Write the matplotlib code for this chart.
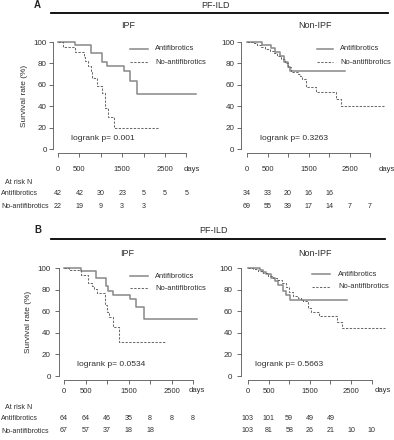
import matplotlib.pyplot as plt
from matplotlib.lines import Line2D
from matplotlib.transforms import blended_transform_factory

plt.rcParams['font.family'] = ['Liberation Sans', 'DejaVu Sans']

# Kaplan-Meier step data (days, survival %)
a_ipf_anti_t = [0, 397, 765, 1021, 1154, 1544, 1685, 1857, 3230]
a_ipf_anti_s = [100, 97.6, 90.1, 81.6, 77.4, 72.5, 63.8, 51.0, 51.0]
a_ipf_no_t = [0, 124, 397, 600, 640, 700, 760, 790, 904, 1021, 1100, 1178, 1318, 2360]
a_ipf_no_s = [100, 95.5, 90.9, 86.4, 81.8, 77.3, 72.7, 65.9, 58.6, 52.0, 38.5, 29.6, 19.7, 19.7]

a_non_anti_t = [0, 366, 593, 690, 797, 902, 1000, 1041, 2390]
a_non_anti_s = [100, 97.5, 94.4, 90.7, 86.6, 81.3, 76.3, 72.5, 72.5]
a_non_no_t = [0, 146, 250, 350, 450, 560, 650, 740, 830, 920, 1000, 1081, 1244, 1300, 1350,
              1447, 1683, 2171, 2285, 3341]
a_non_no_s = [100, 98.6, 97.1, 95.7, 93.2, 91.3, 89.9, 86.9, 84.1, 80.0, 76.3, 72.0, 70.5, 68.0,
              65.0, 57.7, 53.3, 46.5, 40.2, 40.2]

b_ipf_anti_t = [0, 395, 744, 977, 1016, 1147, 1535, 1674, 1868, 3093]
b_ipf_anti_s = [100, 97.5, 90.7, 83.3, 78.4, 74.7, 71.0, 63.9, 53.1, 53.1]
b_ipf_no_t = [0, 124, 395, 550, 651, 705, 760, 961, 993, 1054, 1147, 1287, 2349]
b_ipf_no_s = [100, 97.9, 93.3, 86.4, 83.3, 80.2, 77.2, 66.0, 59.3, 54.6, 45.4, 31.5, 31.5]

b_non_anti_t = [0, 283, 364, 444, 551, 648, 728, 850, 930, 1012, 2396]
b_non_anti_s = [100, 98, 96, 94, 91, 88, 84, 79, 75, 70, 70]
b_non_no_t = [0, 121, 250, 370, 480, 600, 700, 820, 920, 1000, 1100, 1214, 1280, 1327, 1449,
              1529, 1731, 2153, 2274, 3330]
b_non_no_s = [100, 99, 97, 95, 93, 91, 89, 86, 82, 78, 74, 72, 70, 69, 62.6, 58.9, 55.8, 49.6,
              44.2, 44.2]

# numbers at risk
risk_times = [0, 500, 1000, 1500, 2000, 2500, 3000]
a_ipf_risk_anti = [42, 42, 30, 23, 5, 5, 5]
a_ipf_risk_no = [22, 19, 9, 3, 3]
a_non_risk_anti = [34, 33, 20, 16, 16]
a_non_risk_no = [69, 55, 39, 17, 14, 7, 7]
b_ipf_risk_anti = [64, 64, 46, 35, 8, 8, 8]
b_ipf_risk_no = [67, 57, 37, 18, 18]
b_non_risk_anti = [103, 101, 59, 49, 49]
b_non_risk_no = [103, 81, 58, 26, 21, 10, 10]

p_values = ['0.001', '0.3263', '0.0534', '0.5663']
titles = ['IPF', 'Non-IPF', 'IPF', 'Non-IPF']

W, H = 394, 440
fig = plt.figure(figsize=(W / 100, H / 100), dpi=100)
TXT = '#2e2e2e'
AX = '#555555'
C_ANTI = '#888888'
C_NO = '#6a6a6a'


def fx(px):
    return px / W


def fy(py):
    return 1 - py / H


def ftext(px, py, s, size=5.5, ha='center', **kw):
    fig.text(fx(px), fy(py), s, fontsize=size, ha=ha, va='center', color=kw.pop('color', TXT), **kw)


# layout per panel (pixels)
panels = [
    dict(x0=58, sx=0.0428, xlim=(-117, 3300), y0=149, sy=1.07, tx=128, ty=26,
         lx=71, ly=139, leg=(130, 148, 155, 49, 62), days=192, xpad=6.5, ypad=1.5,
         rows=(193, 206),
         anti=(a_ipf_anti_t, a_ipf_anti_s), no=(a_ipf_no_t, a_ipf_no_s),
         risk=(a_ipf_risk_anti, a_ipf_risk_no)),
    dict(x0=247, sx=0.041, xlim=(-154, 3400), y0=149, sy=1.07, tx=315, ty=26,
         lx=260, ly=139, leg=(317, 333, 340, 49, 62), days=387, xpad=6.5, ypad=1.5,
         rows=(193, 206),
         anti=(a_non_anti_t, a_non_anti_s), no=(a_non_no_t, a_non_no_s),
         risk=(a_non_risk_anti, a_non_risk_no)),
    dict(x0=64, sx=0.043, xlim=(-116, 3200), y0=376, sy=1.08, tx=127, ty=253,
         lx=77, ly=364, leg=(130, 148, 155, 276, 288), days=197, xpad=2.5, ypad=3,
         rows=(418, 430),
         anti=(b_ipf_anti_t, b_ipf_anti_s), no=(b_ipf_no_t, b_ipf_no_s),
         risk=(b_ipf_risk_anti, b_ipf_risk_no)),
    dict(x0=248, sx=0.0412, xlim=(-175, 3400), y0=376, sy=1.08, tx=315, ty=254,
         lx=255, ly=364, leg=(312, 330, 338, 274, 287), days=383, xpad=2.5, ypad=3,
         rows=(418, 430),
         anti=(b_non_anti_t, b_non_anti_s), no=(b_non_no_t, b_non_no_s),
         risk=(b_non_risk_anti, b_non_risk_no)),
]

for i, p in enumerate(panels):
    left = p['x0'] + p['sx'] * p['xlim'][0]
    right = p['x0'] + p['sx'] * p['xlim'][1]
    top = p['y0'] - p['sy'] * 104
    bottom = p['y0'] + p['sy'] * 4
    ax = fig.add_axes([fx(left), fy(bottom), fx(right - left), (bottom - top) / H])
    ax.set_xlim(*p['xlim'])
    ax.set_ylim(-4, 104)
    ax.patch.set_visible(False)

    ax.step(p['anti'][0], p['anti'][1], where='post', color=C_ANTI, lw=1.1)
    ax.step(p['no'][0], p['no'][1], where='post', color=C_NO, lw=0.75, ls=(0, (2.2, 1.4)))

    for side in ['top', 'right']:
        ax.spines[side].set_visible(False)
    ax.spines['left'].set_bounds(0, 100)
    ax.spines['bottom'].set_bounds(0, 3000)
    for side in ['left', 'bottom']:
        ax.spines[side].set_color(AX)
        ax.spines[side].set_linewidth(0.6)

    ax.set_xticks(risk_times)
    ax.set_xticklabels(['0', '500', '', '1500', '', '2500', ''])
    ax.set_yticks([0, 20, 40, 60, 80, 100])
    ax.tick_params(axis='x', length=3, width=0.6, color=AX, labelsize=5.5,
                   labelcolor=TXT, pad=p['xpad'])
    ax.tick_params(axis='y', length=3, width=0.6, color=AX, labelsize=5.8,
                   labelcolor=TXT, pad=p['ypad'])

    # panel title, p-value, "days"
    ftext(p['tx'], p['ty'], titles[i], size=6.5)
    ftext(p['lx'], p['ly'], 'logrank p= ' + p_values[i], size=6, ha='left')
    tick_y = p['y0'] + p['sy'] * 4 + 3 + p['xpad'] * 1.39 + 4
    ftext(p['days'], tick_y, 'days', size=5.5)

    # legend
    x1, x2, xt, ya, yn = p['leg']
    fig.add_artist(Line2D([fx(x1), fx(x2)], [fy(ya), fy(ya)], color=C_ANTI, lw=1.1,
                          transform=fig.transFigure))
    fig.add_artist(Line2D([fx(x1), fx(x2)], [fy(yn), fy(yn)], color=C_NO, lw=0.75,
                          ls=(0, (2.2, 1.4)), transform=fig.transFigure))
    ftext(xt, ya, 'Antifibrotics', size=5.4, ha='left')
    ftext(xt, yn, 'No-antifibrotics', size=5.4, ha='left')

    # numbers at risk, aligned to the x-axis
    tr = blended_transform_factory(ax.transData, fig.transFigure)
    for row_y, counts in zip(p['rows'], p['risk']):
        for t, n in zip(risk_times, counts):
            ax.text(t, fy(row_y), str(n), transform=tr, fontsize=5.1, ha='center',
                    va='center', color=TXT, clip_on=False)

    if i % 2 == 0:
        ax.set_ylabel('Survival rate (%)', fontsize=6, color=TXT, labelpad=4)

# section headers and risk table labels
for lab, ly, line_y, hx, hy, x_end, row_top in [('A', 5.5, 13, 216, 5, 388, 182),
                                                ('B', 229.5, 239, 213, 230.5, 385, 407)]:
    ftext(37.5, ly, lab, size=7, fontweight='bold', color='#222222')
    ftext(hx, hy, 'PF-ILD', size=6.5)
    fig.add_artist(Line2D([fx(51), fx(x_end)], [fy(line_y), fy(line_y)], color='black',
                          lw=1.3, transform=fig.transFigure))
    ftext(5, row_top, 'At risk N', size=5.1, ha='left')
    ftext(1, row_top + 11.5, 'Antifibrotics', size=5.1, ha='left')
    ftext(1, row_top + 24, 'No-antifibrotics', size=5.1, ha='left')

fig.savefig('out.png', dpi=100)
